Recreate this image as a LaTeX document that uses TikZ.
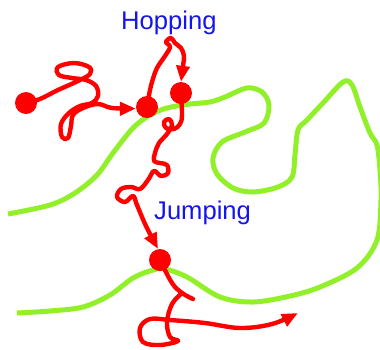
\documentclass[tikz,border=0pt]{standalone}
\usepackage{fontspec}
\setmainfont{Liberation Sans}
\usetikzlibrary{arrows.meta}
\definecolor{pathred}{RGB}{255,0,0}
\definecolor{surfgreen}{RGB}{146,240,42}
\definecolor{tagblue}{RGB}{20,20,240}
\begin{document}
\begin{tikzpicture}[x=1pt, y=-1pt,
  walk/.style={draw=pathred, line width=4.4pt, line cap=round, line join=round},
  head/.style={-{Triangle[length=16pt,width=13pt]}},
  site/.style={circle, fill=pathred, inner sep=0pt, minimum size=22pt},
  surface/.style={draw=surfgreen, line width=5pt},
  tag/.style={text=tagblue, font=\fontsize{25.6}{30}\selectfont, inner sep=0pt, anchor=base west}]
\useasboundingbox (0,0) rectangle (380,349);

% the wavy surface
\draw[surface] plot[smooth, tension=0.55] coordinates {
  (8,214) (50,205) (75,193) (97,175) (113,153) (133,128) (150,115) (167,108)
  (190,104) (210,102) (225,97) (247,88) (262,92) (269,105) (264,123) (245,132)
  (222,142) (213,158) (217,174) (233,188) (253,192) (278,187) (292,177) (295,155)
  (298,130) (307,120) (323,103) (343,82) (352,85) (360,107) (370,133) (377,145)
  (380,170) (381,200) (377,240) (357,268) (320,287) (290,296) (253,302) (220,297)
  (187,277) (165,269) (153,270) (133,278) (110,295) (83,307) (50,311) (17,313)};

% adsorption sites
\node[site] (A) at (26,103) {};
\node[site] (B) at (147,107) {};
\node[site] (C) at (181,93) {};
\node[site] (D) at (160,260) {};

% labels
\node[tag] (hop) at (121,29.5) {Hopping};
\node[tag] (jump) at (154,219.5) {Jumping};

% random walk from A to B
\draw[walk, head] plot[smooth, tension=0.6] coordinates {
  (A) (40,99) (58,90) (78,81) (90,74) (89,67) (74,63) (58,67) (59,75) (72,78)
  (86,80) (96,86) (98,96) (92,103) (80,106) (69,113) (61,124) (62,137) (68,138)
  (71,126) (73,115) (83,108) (98,104) (112,108) (B.188)};

% hop from B to C
\draw[walk, head] plot[smooth, tension=0.6] coordinates {
  (B) (149,95) (152,82) (157,68) (165,56) (170,47) (166,42) (171,38) (175,43)
  (181,48) (184,56) (183,66) (C.north)};

% jump from C down to D
\draw[walk, head] plot[smooth, tension=0.6] coordinates {
  (C) (182,115) (180,124) (174,129) (166,128) (164,122) (169,119) (172,125)
  (167,134) (159,143) (155,153) (154,161) (160,163) (167,165) (168,173) (161,176)
  (154,171) (148,180) (140,189) (131,187) (121,189) (117,197) (125,202) (133,196)
  (137,205) (146,226) (D.100)};

% walk leaving D
\draw[walk] plot[smooth, tension=0.6] coordinates {(D) (172,283) (182,293) (193,299)};
\coordinate (away) at (298,313);
\draw[walk, head] plot[smooth, tension=0.6] coordinates {
  (182,293) (172,304) (167,322) (170,337) (178,341) (160,345) (143,342) (140,328)
  (150,319) (170,320) (205,323) (240,328) (272,324) (away)};
\end{tikzpicture}
\end{document}
